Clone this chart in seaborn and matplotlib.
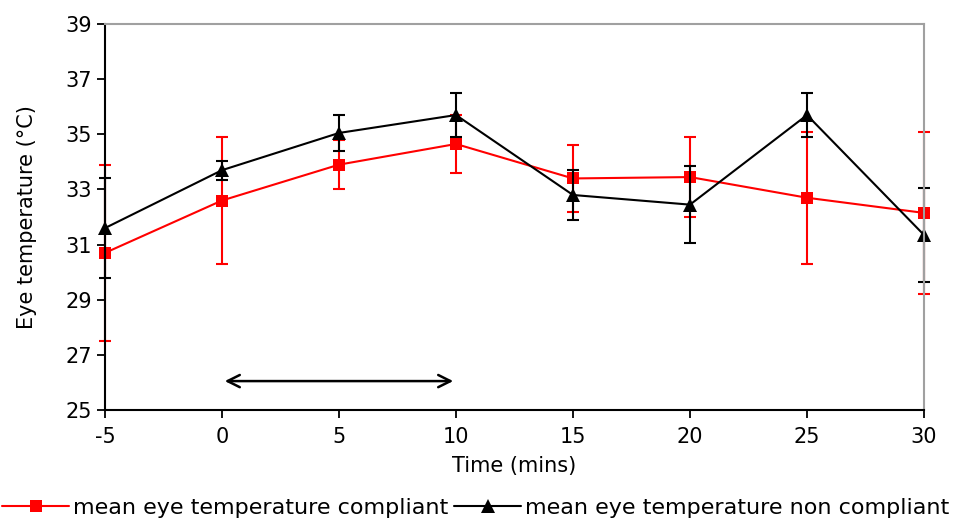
import matplotlib
matplotlib.use("Agg")
import matplotlib.pyplot as plt
import seaborn as sns
import pandas as pd

# ---------------------------------------------------
# Data
# ---------------------------------------------------

time_mins = [-5, 0, 5, 10, 15, 20, 25, 30]

compliant_mean = [30.7, 32.6, 33.9, 34.65, 33.4, 33.45, 32.7, 32.15]
compliant_err = [3.2, 2.3, 0.9, 1.05, 1.2, 1.45, 2.4, 2.95]

non_compliant_mean = [31.6, 33.7, 35.05, 35.7, 32.8, 32.45, 35.7, 31.35]
non_compliant_err = [1.8, 0.35, 0.65, 0.8, 0.9, 1.4, 0.8, 1.7]

y_ticks = [25, 27, 29, 31, 33, 35, 37, 39]
x_ticks = [-5, 0, 5, 10, 15, 20, 25, 30]

# treatment window marked by the double arrow
arrow_start, arrow_end, arrow_level = 0, 10, 26.05

df = pd.DataFrame({
    "time": time_mins,
    "compliant": compliant_mean,
    "non_compliant": non_compliant_mean,
})

# ---------------------------------------------------
# Plot
# ---------------------------------------------------

sns.set_style("ticks")
plt.rcParams["font.family"] = ["DejaVu Sans"]
plt.rcParams["axes.unicode_minus"] = False
plt.rcParams["text.color"] = "black"
plt.rcParams["axes.labelcolor"] = "black"
plt.rcParams["xtick.color"] = "black"
plt.rcParams["ytick.color"] = "black"

fig, ax = plt.subplots(figsize=(9.58, 5.23), dpi=100)


def error_bars(y, err, colour):
    eb = ax.errorbar(
        df["time"], y, yerr=err,
        fmt="none", ecolor=colour, elinewidth=1.5, capsize=4.5, capthick=1.5
    )
    for art in list(eb.lines[1]) + list(eb.lines[2]):
        art.set_clip_on(False)


error_bars(df["compliant"], compliant_err, "red")
sns.lineplot(
    data=df, x="time", y="compliant",
    color="red", marker="s", markersize=8.5, markeredgewidth=0,
    linewidth=1.5, label="mean eye temperature compliant", ax=ax,
    clip_on=False
)

error_bars(df["non_compliant"], non_compliant_err, "black")
sns.lineplot(
    data=df, x="time", y="non_compliant",
    color="black", marker="^", markersize=10, markeredgewidth=0,
    linewidth=1.5, label="mean eye temperature non compliant", ax=ax,
    clip_on=False
)

ax.annotate(
    "",
    xy=(arrow_start, arrow_level),
    xytext=(arrow_end, arrow_level),
    arrowprops=dict(arrowstyle="<->", color="black", lw=1.8, mutation_scale=22),
)

ax.set_xlim(-5, 30)
ax.set_ylim(25, 39)
ax.set_xticks(x_ticks)
ax.set_yticks(y_ticks)

ax.set_xlabel("Time (mins)", fontsize=15, labelpad=7)
ax.set_ylabel("Eye temperature (°C)", fontsize=15, labelpad=20)

ax.tick_params(axis="both", labelsize=15, direction="out", length=6, width=1.3)
ax.tick_params(axis="x", pad=6)

for side in ["left", "bottom"]:
    ax.spines[side].set_color("black")
    ax.spines[side].set_linewidth(1.5)
for side in ["top", "right"]:
    ax.spines[side].set_visible(True)
    ax.spines[side].set_color("#a0a0a0")
    ax.spines[side].set_linewidth(1.5)

ax.legend(
    loc="upper center",
    bbox_to_anchor=(0.453, -0.205),
    ncol=2,
    frameon=False,
    fontsize=16,
    handlelength=3.0,
    handletextpad=0.2,
    columnspacing=0.25,
    borderaxespad=0,
)

fig.subplots_adjust(left=0.1096, right=0.9645, top=0.954, bottom=0.216)

plt.savefig("out.png", dpi=100)
plt.close()
